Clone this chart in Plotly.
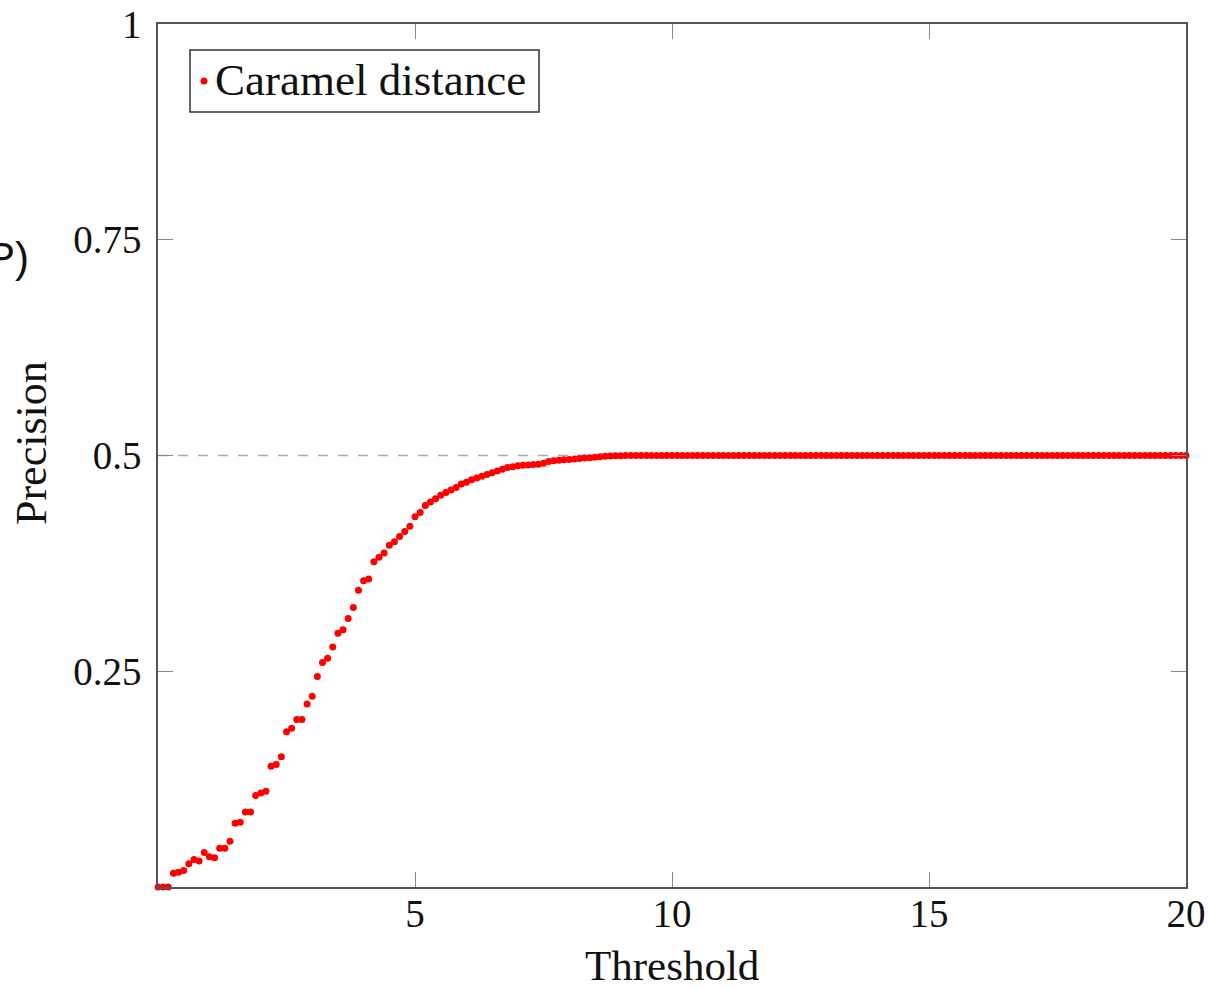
import plotly.graph_objects as go

thresholds = [
    0.0, 0.1, 0.2, 0.3, 0.4, 0.5, 0.6, 0.7, 0.8, 0.9,
    1.0, 1.1, 1.2, 1.3, 1.4, 1.5, 1.6, 1.7, 1.8, 1.9,
    2.0, 2.1, 2.2, 2.3, 2.4, 2.5, 2.6, 2.7, 2.8, 2.9,
    3.0, 3.1, 3.2, 3.3, 3.4, 3.5, 3.6, 3.7, 3.8, 3.9,
    4.0, 4.1, 4.2, 4.3, 4.4, 4.5, 4.6, 4.7, 4.8, 4.9,
    5.0, 5.1, 5.2, 5.3, 5.4, 5.5, 5.6, 5.7, 5.8, 5.9,
    6.0, 6.1, 6.2, 6.3, 6.4, 6.5, 6.6, 6.7, 6.8, 6.9,
    7.0, 7.1, 7.2, 7.3, 7.4, 7.5, 7.6, 7.7, 7.8, 7.9,
    8.0, 8.1, 8.2, 8.3, 8.4, 8.5, 8.6, 8.7, 8.8, 8.9,
    9.0, 9.1, 9.2, 9.3, 9.4, 9.5, 9.6, 9.7, 9.8, 9.9,
    10.0, 10.1, 10.2, 10.3, 10.4, 10.5, 10.6, 10.7, 10.8, 10.9,
    11.0, 11.1, 11.2, 11.3, 11.4, 11.5, 11.6, 11.7, 11.8, 11.9,
    12.0, 12.1, 12.2, 12.3, 12.4, 12.5, 12.6, 12.7, 12.8, 12.9,
    13.0, 13.1, 13.2, 13.3, 13.4, 13.5, 13.6, 13.7, 13.8, 13.9,
    14.0, 14.1, 14.2, 14.3, 14.4, 14.5, 14.6, 14.7, 14.8, 14.9,
    15.0, 15.1, 15.2, 15.3, 15.4, 15.5, 15.6, 15.7, 15.8, 15.9,
    16.0, 16.1, 16.2, 16.3, 16.4, 16.5, 16.6, 16.7, 16.8, 16.9,
    17.0, 17.1, 17.2, 17.3, 17.4, 17.5, 17.6, 17.7, 17.8, 17.9,
    18.0, 18.1, 18.2, 18.3, 18.4, 18.5, 18.6, 18.7, 18.8, 18.9,
    19.0, 19.1, 19.2, 19.3, 19.4, 19.5, 19.6, 19.7, 19.8, 19.9,
    20.0,
]

precision = [
    0.0, 0.0, 0.0, 0.016, 0.017, 0.019, 0.027, 0.032, 0.030, 0.040,
    0.035, 0.034, 0.045, 0.045, 0.053, 0.074, 0.075, 0.087, 0.087, 0.106,
    0.109, 0.111, 0.140, 0.142, 0.151, 0.180, 0.184, 0.194, 0.194, 0.212,
    0.221, 0.244, 0.260, 0.265, 0.278, 0.294, 0.298, 0.311, 0.324, 0.344,
    0.355, 0.357, 0.377, 0.382, 0.387, 0.396, 0.400, 0.406, 0.412, 0.418,
    0.429, 0.434, 0.442, 0.446, 0.450, 0.454, 0.457, 0.460, 0.463, 0.467,
    0.469, 0.472, 0.474, 0.476, 0.478, 0.480, 0.482, 0.484, 0.486, 0.487,
    0.488, 0.4886, 0.489, 0.4895, 0.490, 0.491, 0.493, 0.494, 0.4945, 0.495,
    0.4955, 0.496, 0.4965, 0.497, 0.4975, 0.498, 0.4985, 0.499, 0.4993, 0.4996,
    0.4998, 0.5, 0.5, 0.5, 0.5, 0.5, 0.5, 0.5, 0.5, 0.5,
    0.5, 0.5, 0.5, 0.5, 0.5, 0.5, 0.5, 0.5, 0.5, 0.5,
    0.5, 0.5, 0.5, 0.5, 0.5, 0.5, 0.5, 0.5, 0.5, 0.5,
    0.5, 0.5, 0.5, 0.5, 0.5, 0.5, 0.5, 0.5, 0.5, 0.5,
    0.5, 0.5, 0.5, 0.5, 0.5, 0.5, 0.5, 0.5, 0.5, 0.5,
    0.5, 0.5, 0.5, 0.5, 0.5, 0.5, 0.5, 0.5, 0.5, 0.5,
    0.5, 0.5, 0.5, 0.5, 0.5, 0.5, 0.5, 0.5, 0.5, 0.5,
    0.5, 0.5, 0.5, 0.5, 0.5, 0.5, 0.5, 0.5, 0.5, 0.5,
    0.5, 0.5, 0.5, 0.5, 0.5, 0.5, 0.5, 0.5, 0.5, 0.5,
    0.5, 0.5, 0.5, 0.5, 0.5, 0.5, 0.5, 0.5, 0.5, 0.5,
    0.5, 0.5, 0.5, 0.5, 0.5, 0.5, 0.5, 0.5, 0.5, 0.5,
    0.5,
]

x_tickvals = [5, 10, 15, 20]
x_ticktext = ["5", "10", "15", "20"]
y_tickvals = [0.25, 0.5, 0.75, 1]
y_ticktext = ["0.25", "0.5", "0.75", "1"]
reference_level = 0.5
series_name = "Caramel distance"

FONT = "Liberation Serif"
TXT = "#111111"
W, H = 1208, 989
ML, MT = 158, 24
PW, PH = 1028, 863
MR, MB = W - ML - PW, H - MT - PH


def px_x(p):
    return (p - ML) / PW


def px_y(p):
    return (H - MB - p) / PH


fig = go.Figure()
fig.add_trace(go.Scatter(
    x=thresholds, y=precision, mode="markers", name=series_name,
    marker=dict(color="#ff0000", size=7, line=dict(width=0)),
    cliponaxis=False, showlegend=False,
))

fig.add_shape(type="line", xref="x", yref="y", x0=0, x1=20,
              y0=reference_level, y1=reference_level,
              line=dict(color="#aaaaaa", width=1.5, dash="10px,10px"), layer="below")

axis_common = dict(
    showline=True, linecolor="#555555", linewidth=1.5, mirror="ticks",
    ticks="inside", ticklen=15, tickwidth=1.2, tickcolor="#888888",
    showgrid=False, zeroline=False, ticklabeloverflow="allow",
    tickfont=dict(family=FONT, size=39, color=TXT),
)

fig.update_layout(
    width=W, height=H,
    margin=dict(l=ML, r=MR, t=MT, b=MB, autoexpand=False),
    paper_bgcolor="white", plot_bgcolor="white",
    xaxis=dict(range=[0, 20], tickvals=x_tickvals, ticktext=x_ticktext,
               ticklabelstandoff=-9, **axis_common),
    yaxis=dict(range=[0, 1], tickvals=y_tickvals, ticktext=y_ticktext,
               ticklabelstandoff=7, **axis_common),
    showlegend=False,
)

# axis titles
fig.add_annotation(text="Threshold", xref="paper", yref="paper",
                   x=px_x(672), y=px_y(965), xanchor="center", yanchor="middle",
                   showarrow=False, font=dict(family=FONT, size=43, color=TXT))
fig.add_annotation(text="Precision", xref="paper", yref="paper", textangle=-90,
                   x=px_x(31), y=px_y(443), xanchor="center", yanchor="middle",
                   showarrow=False, font=dict(family=FONT, size=44, color=TXT))

# legend box
fig.add_shape(type="rect", xref="paper", yref="paper",
              x0=px_x(190), x1=px_x(539), y0=px_y(112), y1=px_y(50),
              line=dict(color="#333333", width=1.5), fillcolor="white", layer="above")
fig.add_shape(type="circle", xref="paper", yref="paper",
              xsizemode="pixel", ysizemode="pixel",
              xanchor=px_x(204), yanchor=px_y(81),
              x0=-3.5, x1=3.5, y0=-3.5, y1=3.5,
              line=dict(width=0), fillcolor="#ff0000", layer="above")
fig.add_annotation(text=series_name, xref="paper", yref="paper",
                   x=px_x(213), y=px_y(80), xanchor="left", yanchor="middle",
                   showarrow=False, font=dict(family=FONT, size=45, color=TXT))

# cropped fragment of text at the left edge (cut off in the reference as well)
fig.add_annotation(text="P)", xref="paper", yref="paper", x=px_x(31), y=px_y(257),
                   xanchor="right", yanchor="middle", showarrow=False,
                   font=dict(family="Liberation Sans", size=42, color=TXT))

fig.write_html("out.html", config={"displayModeBar": False},
               post_script="document.body.style.margin='0';")
